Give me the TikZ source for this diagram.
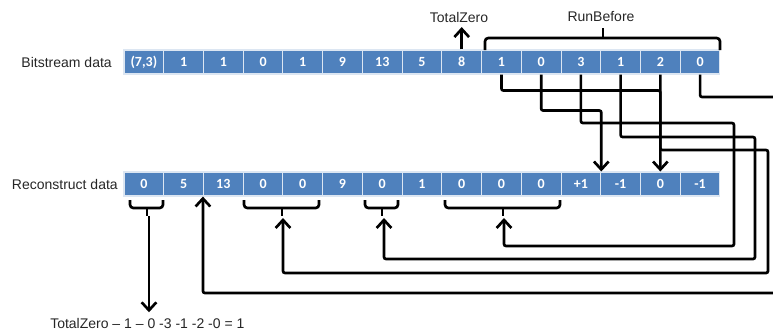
\documentclass[tikz,border=0pt]{standalone}
\usepackage{fontspec}
\setmainfont{Liberation Sans}
\newfontfamily\cellfont{Carlito}
\usetikzlibrary{arrows.meta,calc}
\definecolor{cellblue}{HTML}{4F81BD}
\definecolor{cellrule}{HTML}{DCE6F2}
\definecolor{labelink}{HTML}{262626}
\begin{document}
\begin{tikzpicture}[x=0.75pt,y=-0.75pt,
  cell/.style={draw=cellrule, line width=0.8pt, fill=cellblue, text=white,
    minimum width=29.8pt, minimum height=18pt, inner sep=0pt,
    font=\cellfont\bfseries\fontsize{10.5}{12}\selectfont},
  lbl/.style={inner sep=0pt, text=labelink, font=\fontsize{10.5}{12}\selectfont},
  wire/.style={line width=2pt, rounded corners=1.5pt},
  arr/.style={wire, -{Straight Barb[length=6pt,width=11pt]}},
  brk/.style={line width=2pt, rounded corners=2.5pt}]
\useasboundingbox (0,0) rectangle (773,329);

% the two rows of cells
\foreach \v [count=\i from 0] in {{(7,3)},1,1,0,1,9,13,5,8,1,0,3,1,2,0}
  \node[cell] (t\i) at ({124+39.73*(\i+0.5)},62) {\v};
\foreach \v [count=\i from 0] in {0,5,13,0,0,9,0,1,0,0,0,+1,-1,0,-1}
  \node[cell] (b\i) at ({124+39.73*(\i+0.5)},184) {\v};

\node[lbl, anchor=east] (bsl) at (112,62) {Bitstream data};
\node[lbl, anchor=east] (rcl) at (118,184) {Reconstruct data};

% TotalZero and RunBefore labels above the stream
\node[lbl] (tzl) at (459,17) {TotalZero};
\draw[arr, shorten >=3.5pt] (t8.north) -- (t8.north |- tzl.south);
\node[lbl] (rbl) at (601,17) {RunBefore};
\draw[brk] (485,50) -- (485,38) -- (720,38) -- (720,50);
\draw[brk] (603,38) -- (603,28);

% brackets under the reconstructed cells
\draw[brk] (130,200) -- (130,208) -- (163,208) -- (163,200);
\draw[brk] (147,208) -- (147,216);
\coordinate (brA) at (149,216);
\draw[brk] (244,200) -- (244,208) -- (319,208) -- (319,200);
\draw[brk] (282,208) -- (282,216);
\coordinate (brB) at (283,218);
\draw[brk] (365,200) -- (365,208) -- (398,208) -- (398,200);
\draw[brk] (382,208) -- (382,216);
\coordinate (brC) at (384,218);
\draw[brk] (445,200) -- (445,208) -- (560,208) -- (560,200);
\draw[brk] (503,208) -- (503,216);
\coordinate (brD) at (504,218);

% run-before routing
\draw[arr] (t9.south) -- ++(0,16) -| (b13.north);
\draw[arr] (t10.south) -- ++(0,36) -| (b11.north east);
\draw[arr] (t11.south) |- (734,123) -- (734,246) -| (brD);
\draw[arr] (t12.south) |- (755,137) -- (755,259) -| (brC);
\draw[arr] (t13.south) |- (768,150) -- (768,273) -| (brB);
\coordinate (edgeA) at (773,97);
\coordinate (edgeB) at (773,293);
\draw[wire] (t14.south) |- (edgeA);
\draw[arr] (edgeB) -| (b2.south west);

% total zero check
\node[lbl, anchor=west] (tzsum) at (50,323) {TotalZero – 1 – 0 -3 -1 -2 -0 = 1};
\draw[arr, shorten >=4pt] (brA) -- (brA |- tzsum.north);
\end{tikzpicture}
\end{document}
